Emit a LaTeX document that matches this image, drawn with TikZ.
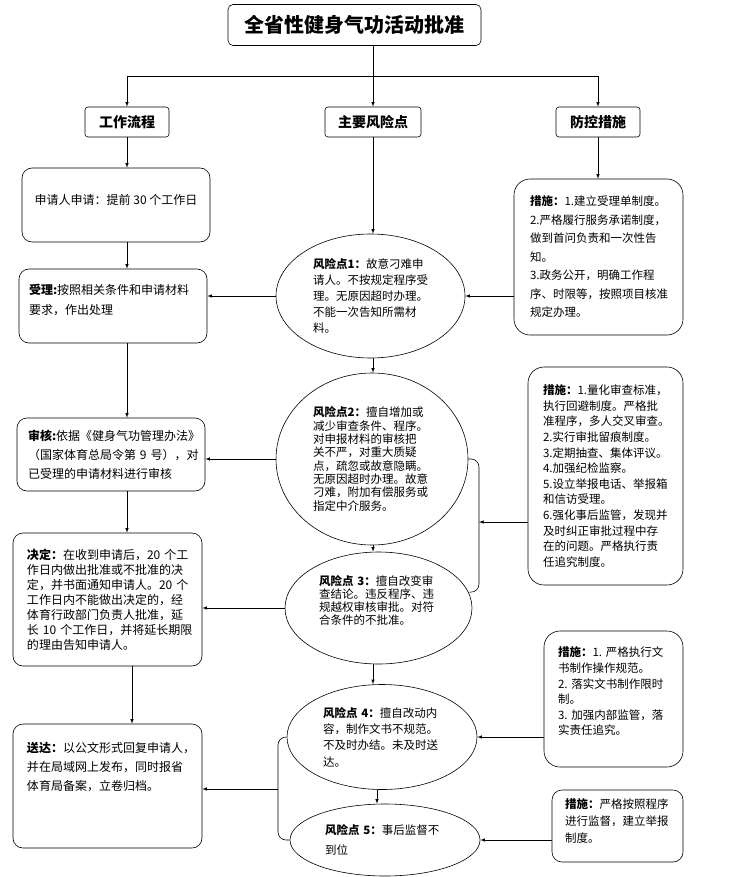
\documentclass[tikz,border=0pt]{standalone}
\usepackage{fontspec}
\setmainfont{Noto Sans CJK SC}
\usetikzlibrary{shapes.geometric,calc}
\newcommand{\bodyfs}[2]{\fontsize{#1pt}{#2pt}\selectfont}
\tikzset{
  hdbox/.style={draw,rounded corners=3pt,minimum height=30pt,inner sep=0pt,font=\bodyfs{14}{16}\bfseries},
  flowbox/.style={draw,rounded corners=10pt,align=left,inner sep=0pt},
  ctrlbox/.style={draw,rounded corners=16pt,align=left,inner sep=0pt},
  riskell/.style={draw,ellipse,align=left,inner sep=0pt},
  arr/.style={-latex},
}

\begin{document}
\begin{tikzpicture}[x=1pt,y=-1pt,line width=0.6pt]
\useasboundingbox (0,0) rectangle (733,877);
%
\node[draw,rounded corners=5pt,minimum width=253pt,minimum height=41pt,font=\bodyfs{20}{22}\bfseries] (title) at (354.5,25) {全省性健身气功活动批准};
\node[hdbox,minimum width=84pt] (hdflow) at (127,122) {工作流程};
\node[hdbox,minimum width=96pt] (hdrisk) at (373,122) {主要风险点};
\node[hdbox,minimum width=84pt] (hdctrl) at (598,122) {防控措施};
\coordinate (bar) at (0,76);
%
\node[flowbox,align=center,minimum width=188pt,minimum height=74pt,font=\bodyfs{12}{15}] (apply) at (116,205) {申请人申请：提前~30~个工作日\rule[-12pt]{0pt}{12pt}};
\node[flowbox,text width=168pt,minimum width=188pt,minimum height=74pt,font=\bodyfs{12}{20}] (accept) at (113,306) {\textbf{受理:}按照相关条件和申请材料\\要求，作出处理\rule[-14pt]{0pt}{14pt}};
\node[flowbox,text width=166pt,minimum width=188pt,minimum height=73pt,font=\bodyfs{12}{19}] (review) at (111,454.5) {\textbf{审核:}依据《健身气功管理办法》\\（国家体育总局令第~9~号），对\\已受理的申请材料进行审核};
\node[flowbox,text width=161pt,minimum width=189pt,minimum height=133pt,font=\bodyfs{12}{15}] (decide) at (107.5,599.5) {\textbf{决定：}在收到申请后，20~个工\\作日内做出批准或不批准的决\\定，并书面通知申请人。20~个\\工作日内不能做出决定的，经\\体育行政部门负责人批准，延\\长~10~个工作日，并将延长期限\\的理由告知申请人。};
\node[flowbox,text width=161pt,minimum width=189pt,minimum height=124pt,font=\bodyfs{12}{19}] (deliver) at (107.5,786) {\textbf{送达：}以公文形式回复申请人，\\并在局域网上发布，同时报省\\体育局备案，立卷归档。\rule[-40pt]{0pt}{40pt}};
%
\node[riskell,text width=115pt,minimum width=189pt,minimum height=124pt,font=\bodyfs{11.5}{16}] (risk1) at (370.5,296) {\textbf{风险点1：}故意刁难申\\请人。不按规定程序受\\理。无原因超时办理。\\不能一次告知所需材\\料。};
\node[riskell,text width=118pt,minimum width=192pt,minimum height=172pt,font=\bodyfs{11.5}{13.3}] (risk2) at (372,459) {\textbf{风险点2：}擅自增加或\\减少审查条件、程序。\\对申报材料的审核把\\关不严，对重大质疑\\点，疏忽或故意隐瞒。\\无原因超时办理。故意\\刁难，附加有偿服务或\\指定中介服务。};
\node[riskell,text width=119pt,minimum width=187pt,minimum height=112pt,font=\bodyfs{11.5}{12.8}] (risk3) at (378.5,608) {\textbf{风险点~3：}擅自改变审\\查结论。违反程序、违\\规越权审核审批。对符\\合条件的不批准。\rule[-16pt]{0pt}{16pt}};
\node[riskell,text width=118pt,minimum width=190pt,minimum height=105pt,font=\bodyfs{11.5}{16.3}] (risk4) at (382,737) {\textbf{风险点~4：}擅自改动内\\容，制作文书不规范。\\不及时办结。未及时送\\达。};
\node[riskell,text width=120pt,minimum width=190pt,minimum height=72pt,font=\bodyfs{11.5}{20}] (risk5) at (385,840) {\textbf{风险点~5：}事后监督不\\到位};
%
\node[ctrlbox,text width=137pt,minimum width=169pt,minimum height=156pt,font=\bodyfs{11.5}{18.5}] (ctrl1) at (598.5,257) {\textbf{措施：}1.建立受理单制度。\\2.严格履行服务承诺制度，\\做到首问负责和一次性告\\知。\\3.政务公开，明确工作程\\序、时限等，按照项目核准\\规定办理。};
\node[ctrlbox,text width=125pt,minimum width=155pt,minimum height=218pt,font=\bodyfs{11.5}{15.6}] (ctrl2) at (605.5,476) {\textbf{措施：}1.量化审查标准，\\执行回避制度。严格批\\准程序，多人交叉审查。\\2.实行审批留痕制度。\\3.定期抽查、集体评议。\\4.加强纪检监察。\\5.设立举报电话、举报箱\\和信访受理。\\6.强化事后监管，发现并\\及时纠正审批过程中存\\在的问题。严格执行责\\任追究制度。};
\node[ctrlbox,text width=111pt,minimum width=139pt,minimum height=136pt,font=\bodyfs{11.5}{15.6}] (ctrl3) at (613.5,699) {\textbf{措施：}1.~严格执行文\\书制作操作规范。\\2.~落实文书制作限时\\制。\\3.~加强内部监管，落\\实责任追究。\rule[-16pt]{0pt}{16pt}};
\node[ctrlbox,rounded corners=10pt,text width=105pt,minimum width=131pt,minimum height=72pt,font=\bodyfs{11.5}{17}] (ctrl4) at (617.5,826) {\textbf{措施：}严格按照程序\\进行监督，建立举报\\制度。\rule[-10pt]{0pt}{10pt}};
%
\draw[arr] (title.south -| hdrisk) -- (hdrisk.north);
\draw (hdflow |- bar) -- (hdctrl |- bar);
\draw[arr] (hdflow |- bar) -- (hdflow.north);
\draw[arr] (hdctrl |- bar) -- (hdctrl.north);
%
\draw[arr] (hdflow.south) -- (apply.north -| hdflow);
\draw[arr] (apply.south -| hdflow) -- (accept.north -| hdflow);
\draw[arr] (accept.south -| hdflow) -- (review.north -| hdflow);
\draw[arr] (review.south -| hdflow) -- (decide.north -| hdflow);
\draw[arr] ($(decide.south -| hdflow)+(5,0)$) -- ($(deliver.north -| hdflow)+(5,0)$);
%
\draw[arr] (hdrisk.south) -- (risk1.north -| hdrisk);
\draw[arr] (risk1.south -| hdrisk) -- (risk2.north -| hdrisk);
\draw[arr] (risk2.south -| hdrisk) -- (risk3.north -| hdrisk);
\draw[arr] (risk3.south -| hdrisk) -- (risk4.north -| hdrisk);
\draw[arr] ($(risk4.south)+(-5,0)$) -- ($(risk5.north -| risk4)+(-5,0)$);
\draw[arr] (hdctrl.south) -- (ctrl1.north -| hdctrl);
%
\draw[arr] (ctrl1.west |- risk1) -- (risk1.east);
\draw[arr] (risk1.west) -- (risk1.west -| accept.east);
\draw[arr] (risk2.west) -- (risk2.west -| review.east);
\draw[arr] (risk3.west) -- (risk3.west -| decide.east);
\coordinate (rbr) at (479,522);
\draw[rounded corners=8pt] (risk2.east) -- (risk2.east -| rbr) -- (rbr |- risk3.10) -- (risk3.10);
\draw[arr] (ctrl2.west |- rbr) -- (rbr);
\coordinate (lbr) at (278,789);
\draw[rounded corners=8pt] (risk4.west) -- (risk4.west -| lbr) -- (lbr |- risk5.west) -- (risk5.west);
\draw[arr] (lbr) -- (lbr -| deliver.east);
\draw[arr] (ctrl3.west |- risk4) -- (risk4.east);
\draw[arr] (ctrl4.west |- risk5) -- (risk5.east);
\end{tikzpicture}
\end{document}
